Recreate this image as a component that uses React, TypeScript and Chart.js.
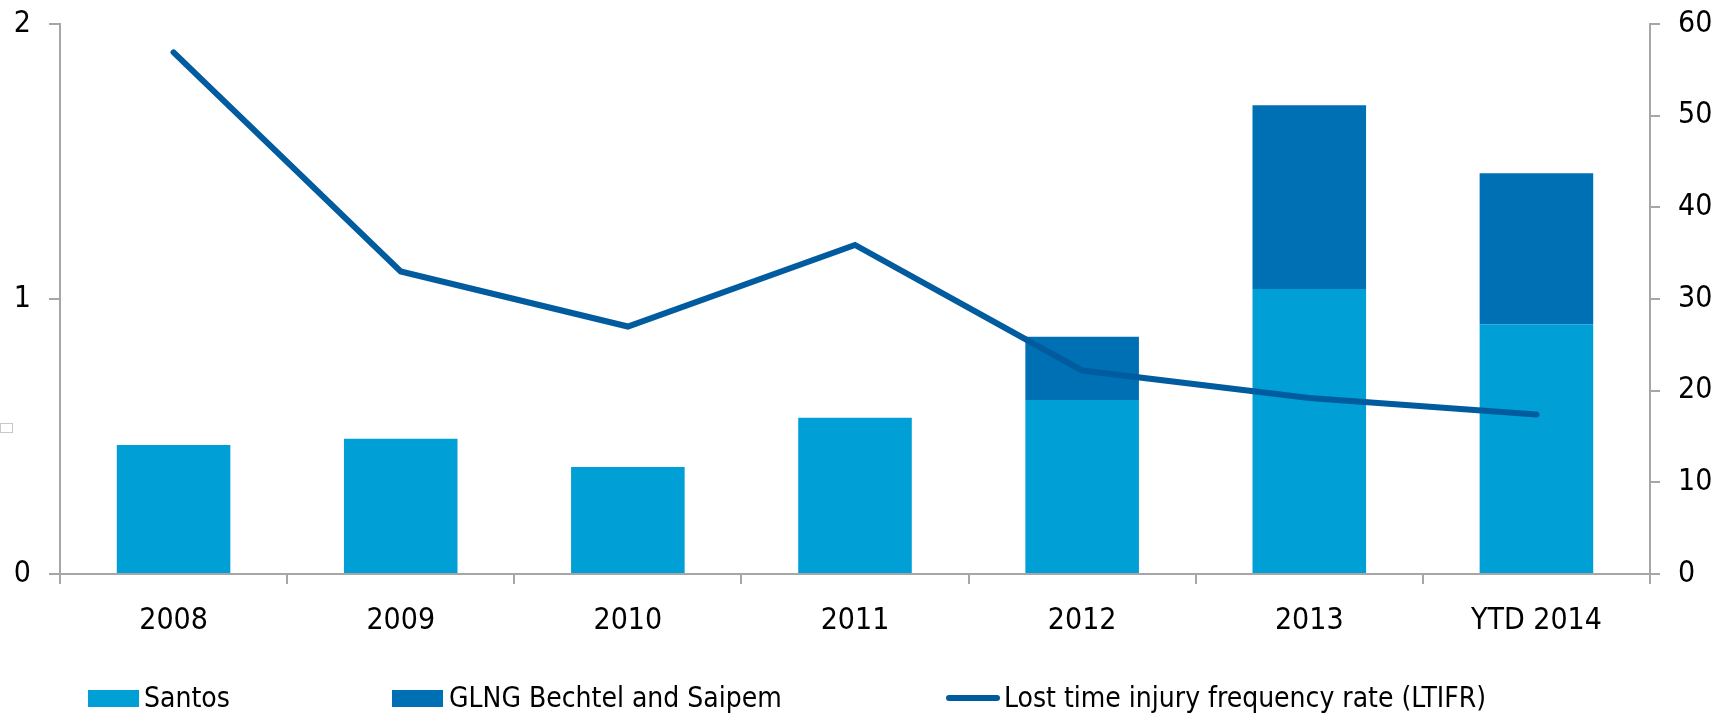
import React, { useEffect, useRef } from "react";
import { Chart, registerables } from "chart.js";

Chart.register(...registerables);

const categories = ["2008", "2009", "2010", "2011", "2012", "2013", "YTD 2014"];
const santos = [0.469, 0.492, 0.389, 0.568, 0.633, 1.036, 0.908];
const glngBechtelSaipem = [0, 0, 0, 0, 0.23, 0.669, 0.549];
const ltifr = [56.9, 33.0, 27.0, 35.9, 22.2, 19.2, 17.4];
const leftTicks = [0, 1, 2];
const rightTicks = [0, 10, 20, 30, 40, 50, 60];

const FONT = "'DejaVu Sans Condensed', 'DejaVu Sans', sans-serif";
const C_SANTOS = "#009fd6";
const C_GLNG = "#0070b5";
const C_LINE = "#005c9e";
const AXIS = "#a6a6a6";

export default function App() {
  const ref = useRef<HTMLCanvasElement | null>(null);
  useEffect(() => {
    if (!ref.current) return;
    const chart = new Chart(ref.current, {
      type: "bar",
      data: {
        labels: categories,
        datasets: [
          {
            type: "line",
            label: "Lost time injury frequency rate (LTIFR)",
            data: ltifr,
            yAxisID: "y2",
            borderColor: C_LINE,
            backgroundColor: C_LINE,
            borderWidth: 6,
            pointRadius: 0,
            tension: 0,
            borderCapStyle: "round",
            borderJoinStyle: "miter",
            order: 0,
          } as any,
          {
            type: "bar",
            label: "Santos",
            data: santos,
            yAxisID: "y",
            backgroundColor: C_SANTOS,
            stack: "s",
            order: 1,
            barPercentage: 0.5,
            categoryPercentage: 1,
          },
          {
            type: "bar",
            label: "GLNG Bechtel and Saipem",
            data: glngBechtelSaipem,
            yAxisID: "y",
            backgroundColor: C_GLNG,
            stack: "s",
            order: 1,
            barPercentage: 0.5,
            categoryPercentage: 1,
          },
        ],
      },
      options: {
        responsive: false,
        animation: false,
        devicePixelRatio: 1,
        layout: { padding: { top: 24, bottom: 60, left: 0, right: 0 } },
        plugins: { legend: { display: false }, tooltip: { enabled: false } },
        scales: {
          x: {
            stacked: true,
            offset: true,
            grid: {
              offset: true,
              drawOnChartArea: false,
              drawTicks: true,
              tickLength: 10,
              color: AXIS,
              lineWidth: 2,
            },
            border: { color: AXIS, width: 2 },
            ticks: { color: "#000", font: { family: FONT, size: 30 }, padding: 19, maxRotation: 0 },
            afterFit: (s: any) => { s.height = 80; s.paddingLeft = 0; s.paddingRight = 0; },
          },
          y: {
            position: "left",
            stacked: true,
            min: 0,
            max: 2,
            afterBuildTicks: (s: any) => { s.ticks = leftTicks.map((v) => ({ value: v })); },
            grid: { drawOnChartArea: false, drawTicks: true, tickLength: 11, color: AXIS, lineWidth: 2 },
            border: { color: AXIS, width: 2 },
            ticks: { color: "#000", font: { family: FONT, size: 30 }, padding: 18 },
            afterFit: (s: any) => { s.width = 60; s.paddingTop = 0; s.paddingBottom = 0; },
          },
          y2: {
            position: "right",
            min: 0,
            max: 60,
            afterBuildTicks: (s: any) => { s.ticks = rightTicks.map((v) => ({ value: v })); },
            grid: { drawOnChartArea: false, drawTicks: true, tickLength: 10, color: AXIS, lineWidth: 2 },
            border: { color: AXIS, width: 2 },
            ticks: { color: "#000", font: { family: FONT, size: 30 }, padding: 18 },
            afterFit: (s: any) => { s.width = 70; s.paddingTop = 0; s.paddingBottom = 0; },
          },
        },
      },
    });
    return () => chart.destroy();
  }, []);

  const legendText: React.CSSProperties = {
    position: "absolute",
    top: 682,
    fontFamily: FONT,
    fontSize: 28,
    lineHeight: "32px",
    color: "#000",
    whiteSpace: "nowrap",
  };

  return (
    <div style={{ position: "absolute", left: 0, top: 0, width: 1720, height: 714, background: "#fff", overflow: "hidden" }}>
      <canvas ref={ref} width={1720} height={714} style={{ position: "absolute", left: 0, top: 0 }} />
      <div style={{ position: "absolute", left: 0, top: 423, width: 11, height: 8, border: "1px solid #c8c8c8" }} />
      <div style={{ position: "absolute", left: 88, top: 690, width: 51, height: 17, background: C_SANTOS }} />
      <div style={{ ...legendText, left: 144 }}>Santos</div>
      <div style={{ position: "absolute", left: 392, top: 690, width: 51, height: 17, background: C_GLNG }} />
      <div style={{ ...legendText, left: 449 }}>GLNG Bechtel and Saipem</div>
      <div style={{ position: "absolute", left: 946, top: 695, width: 54, height: 6, borderRadius: 3, background: C_LINE }} />
      <div style={{ ...legendText, left: 1004 }}>Lost time injury frequency rate (LTIFR)</div>
    </div>
  );
}
